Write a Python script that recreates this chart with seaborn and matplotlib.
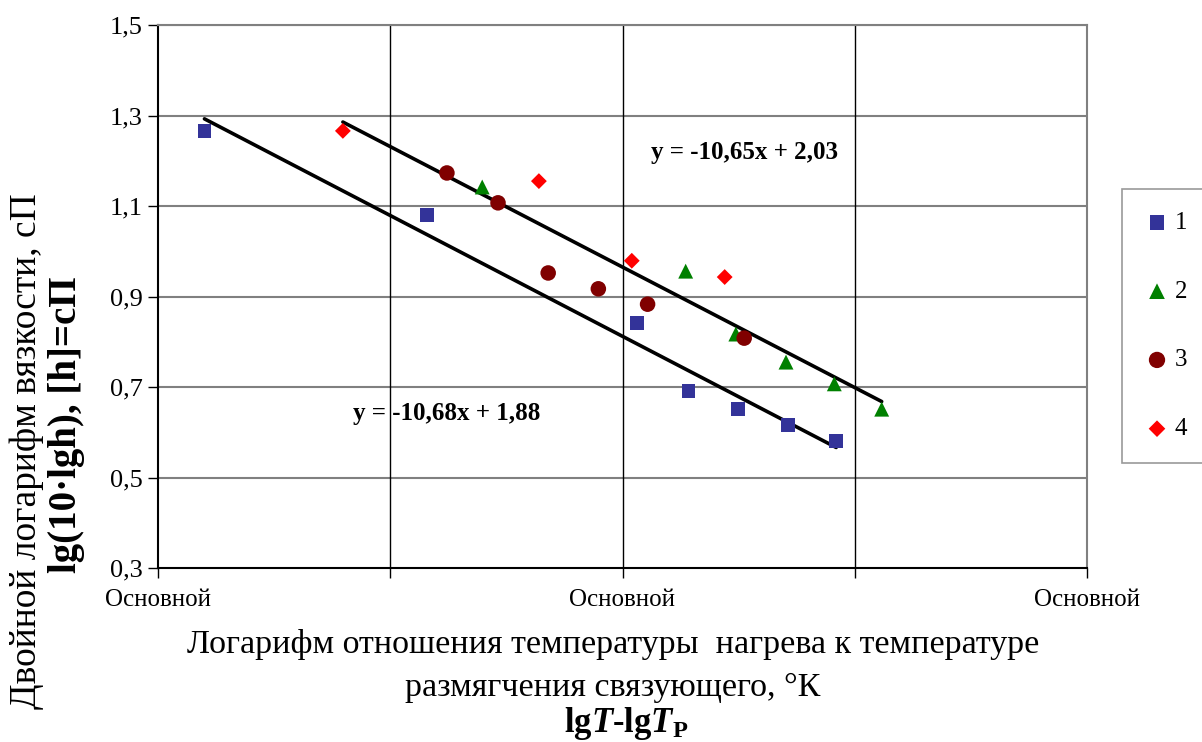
import numpy as np
import pandas as pd
import matplotlib
matplotlib.use("Agg")
import matplotlib.pyplot as plt
import seaborn as sns

# ---- data ----
s1_x = [0.0550, 0.0790, 0.1016, 0.1071, 0.1124, 0.1178, 0.1230]
s1_y = [1.266, 1.080, 0.841, 0.691, 0.651, 0.616, 0.581]
s2_x = [0.0849, 0.1068, 0.1122, 0.1176, 0.1228, 0.1279]
s2_y = [1.142, 0.956, 0.817, 0.755, 0.707, 0.651]
s3_x = [0.0811, 0.0866, 0.0920, 0.0974, 0.1027, 0.1131]
s3_y = [1.173, 1.107, 0.952, 0.917, 0.883, 0.808]
s4_x = [0.0699, 0.0910, 0.1010, 0.1110]
s4_y = [1.266, 1.155, 0.979, 0.943]
series_names = ["1", "2", "3", "4"]

trend_slopes = [-10.68, -10.65]
trend_intercepts = [1.88, 2.03]
trend_labels = ["y = -10,68x + 1,88", "y = -10,65x + 2,03"]

y_ticks = [0.3, 0.5, 0.7, 0.9, 1.1, 1.3, 1.5]
y_ticklabels = ["0,3", "0,5", "0,7", "0,9", "1,1", "1,3", "1,5"]
x_ticks = [0.05, 0.075, 0.10, 0.125, 0.15]
x_ticklabels = ["Основной", "", "Основной", "", "Основной"]

df = pd.DataFrame({
    "x": s1_x + s2_x + s3_x + s4_x,
    "y": s1_y + s2_y + s3_y + s4_y,
    "s": ["1"] * len(s1_x) + ["2"] * len(s2_x) + ["3"] * len(s3_x) + ["4"] * len(s4_x),
})

# trend lines: line 1 over series 1, line 2 over series 2-4
grp_a = df[df.s == "1"]
grp_b = df[df.s != "1"]
tx = []
ty = []
tl = []
for i, g in enumerate([grp_a, grp_b]):
    xs = np.array([g.x.min(), g.x.max()])
    tx += list(xs)
    ty += list(trend_slopes[i] * xs + trend_intercepts[i])
    tl += [f"t{i}"] * 2
tdf = pd.DataFrame({"x": tx, "y": ty, "l": tl})

sns.set_theme(style="white")
plt.rcParams["font.family"] = ["Liberation Serif", "DejaVu Serif"]
plt.rcParams["text.color"] = "black"
plt.rcParams["axes.labelcolor"] = "black"
plt.rcParams["xtick.color"] = "black"
plt.rcParams["ytick.color"] = "black"
plt.rcParams["mathtext.fontset"] = "custom"
plt.rcParams["mathtext.rm"] = "Liberation Serif"
plt.rcParams["mathtext.it"] = "Liberation Serif:italic"
plt.rcParams["mathtext.bf"] = "Liberation Serif:bold"
plt.rcParams["mathtext.bfit"] = "Liberation Serif:italic:bold"

fig = plt.figure(figsize=(12.02, 7.42), dpi=100)
ax = fig.add_axes([158 / 1202, 1 - 568 / 742, (1087 - 158) / 1202, (568 - 25) / 742])

palette = {"1": "#333399", "2": "#008000", "3": "#800000", "4": "#FF0000"}
markers = {"1": "s", "2": "^", "3": "o", "4": "D"}
sizes_map = {"1": 100, "2": 115, "3": 125, "4": 65}

sns.lineplot(data=tdf, x="x", y="y", units="l", estimator=None, color="black",
             lw=2.6, ax=ax, legend=False, zorder=3)
for name in series_names:
    sub = df[df.s == name]
    sns.scatterplot(data=sub, x="x", y="y", color=palette[name], marker=markers[name],
                    s=sizes_map[name], edgecolor="none", ax=ax, label=name, zorder=4)

ax.set_xlim(0.05, 0.15)
ax.set_ylim(0.3, 1.5)
ax.set_xticks(x_ticks)
ax.set_xticklabels(x_ticklabels, fontsize=18)
ax.set_yticks(y_ticks)
ax.set_yticklabels(y_ticklabels, fontsize=19)
ax.tick_params(axis="both", direction="out", length=7, width=1, color="black",
               left=True, bottom=True)
ax.tick_params(axis="x", pad=8)
ax.tick_params(axis="y", pad=4)

for yv in y_ticks[1:]:
    ax.axhline(yv, color="#808080", lw=1.5, zorder=1)
for xv in x_ticks[1:-1]:
    ax.axvline(xv, color="black", lw=1.0, zorder=1)
ax.spines["left"].set_color("black")
ax.spines["bottom"].set_color("black")
ax.spines["top"].set_color("#808080")
ax.spines["right"].set_color("#808080")
for sp in ax.spines.values():
    sp.set_linewidth(1.5)
    sp.set_visible(True)
ax.set_xlabel("")
ax.set_ylabel("")

ax.text(0.631, 0.766, trend_labels[1], transform=ax.transAxes, fontsize=18,
        fontweight="bold", ha="center", va="center")
ax.text(0.311, 0.285, trend_labels[0], transform=ax.transAxes, fontsize=18,
        fontweight="bold", ha="center", va="center")

# axis titles
fig.text(27 / 1202, 1 - 451 / 742, "Двойной логарифм вязкости, сП", rotation=90,
         fontsize=27, ha="center", va="center")
fig.text(67 / 1202, 1 - 425 / 742, "lg(10·lgh), [h]=cП", rotation=90,
         fontsize=28, fontweight="bold", ha="center", va="center")
fig.text(613 / 1202, 1 - 645 / 742,
         "Логарифм отношения температуры  нагрева к температуре",
         fontsize=24.5, ha="center", va="center")
fig.text(613 / 1202, 1 - 688 / 742, "размягчения связующего, °К",
         fontsize=24.5, ha="center", va="center")
fig.text(626 / 1202, 1 - 724 / 742,
         "$\\mathbf{lg}\\mathbfit{T}\\mathbf{\u2010lg}\\mathbfit{T}_{\\mathbf{Р}}$",
         fontsize=25, ha="center", va="center")

handles, labels = ax.get_legend_handles_labels()
leg = ax.legend(handles, labels, loc="upper left",
                bbox_to_anchor=(1122 / 1202, 1 - 189 / 742),
                bbox_transform=fig.transFigure, fontsize=18, frameon=True,
                fancybox=False, edgecolor="#808080", labelspacing=1.85,
                borderpad=0.9, handlelength=1.0, handletextpad=0.2,
                borderaxespad=0, markerscale=1.05)
leg.get_frame().set_linewidth(1.2)

fig.savefig("out.png", dpi=100)
